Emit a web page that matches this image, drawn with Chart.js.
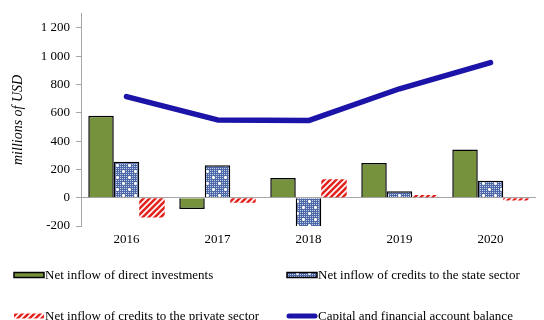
<!DOCTYPE html>
<html>
<head>
<meta charset="utf-8">
<script src="https://cdn.jsdelivr.net/npm/chart.js@4/dist/chart.umd.min.js"></script>
<style>
  html, body { margin: 0; padding: 0; background: #fff; }
  #wrap { width: 544px; height: 320px; position: relative; }
</style>
</head>
<body>
<div id="wrap"><canvas id="chart"></canvas></div>
<script>
// Balance of payments components, millions of USD
const years = ['2016', '2017', '2018', '2019', '2020'];
const directInvestments = [580, -80, 140, 245, 340];
const stateSectorCredits = [255, 230, -210, 45, 120];
const privateSectorCredits = [-140, -35, 130, 20, -20];
const accountBalance = [715, 550, 545, 770, 955];
const yTicks = [-200, 0, 200, 400, 600, 800, 1000, 1200];

const seriesNames = [
  'Net inflow of direct investments',
  'Net inflow of credits to the state sector',
  'Net inflow of credits to the private sector',
  'Capital and financial account balance'
];

const GREEN = '#76923c';
const LINE_BLUE = '#1c14a8';
const AXIS_GREY = '#a6a6a6';
const FONT = '"Liberation Serif", "Times New Roman", serif';

// Dotted blue fill with small white crosses
function makeDotPattern() {
  const c = document.createElement('canvas');
  c.width = 12; c.height = 12;
  const g = c.getContext('2d');
  g.fillStyle = '#4d68a8';
  g.fillRect(0, 0, 12, 12);
  g.fillStyle = 'rgba(255,255,255,0.7)';
  for (let x = 0; x < 12; x += 2) {
    for (let y = 0; y < 12; y += 2) g.fillRect(x, y, 1, 1);
  }
  g.fillStyle = '#ffffff';
  [[3, 3], [9, 9]].forEach(([x, y]) => {
    g.fillRect(x - 1, y, 3, 1);
    g.fillRect(x, y - 1, 1, 3);
  });
  return g.createPattern(c, 'repeat');
}

// Red diagonal hatching
function makeHatchPattern() {
  const s = 6;
  const c = document.createElement('canvas');
  c.width = s; c.height = s;
  const g = c.getContext('2d');
  g.fillStyle = '#ffffff';
  g.fillRect(0, 0, s, s);
  g.strokeStyle = '#e3231f';
  g.lineWidth = 2.6;
  g.beginPath();
  g.moveTo(-s, s); g.lineTo(s, -s);
  g.moveTo(0, 2 * s); g.lineTo(2 * s, 0);
  g.moveTo(0, s); g.lineTo(s, 0);
  g.stroke();
  return g.createPattern(c, 'repeat');
}

const dotPattern = makeDotPattern();
const hatchPattern = makeHatchPattern();

function formatThousands(v) {
  const s = String(Math.abs(v)).replace(/\B(?=(\d{3})+(?!\d))/g, ' ');
  return (v < 0 ? '-' : '') + s;
}

// Two-column legend below the axis
const gridLegend = {
  id: 'gridLegend',
  afterDraw(chart) {
    const ctx = chart.ctx;
    const items = [
      { x: 14, y: 275, kind: 'box', fill: GREEN, border: '#000' },
      { x: 287, y: 275, kind: 'box', fill: dotPattern, border: '#000' },
      { x: 14, y: 316, kind: 'box', fill: hatchPattern, border: null },
      { x: 287, y: 316, kind: 'line', color: LINE_BLUE }
    ];
    ctx.save();
    ctx.font = '13px ' + FONT;
    ctx.textBaseline = 'middle';
    ctx.textAlign = 'left';
    items.forEach((it, i) => {
      if (it.kind === 'box') {
        ctx.fillStyle = it.fill;
        ctx.fillRect(it.x, it.y - 2.5, 30, 5);
        if (it.border) {
          ctx.strokeStyle = it.border;
          ctx.lineWidth = 1.5;
          ctx.strokeRect(it.x, it.y - 2.5, 30, 5);
        }
      } else {
        ctx.strokeStyle = it.color;
        ctx.lineWidth = 5;
        ctx.lineCap = 'round';
        ctx.beginPath();
        ctx.moveTo(it.x + 2, it.y);
        ctx.lineTo(it.x + 28, it.y);
        ctx.stroke();
      }
      ctx.fillStyle = '#000';
      ctx.fillText(seriesNames[i], it.x + 31, it.y + 1);
    });
    ctx.restore();
  }
};

new Chart(document.getElementById('chart'), {
  data: {
    labels: years,
    datasets: [
      {
        type: 'line',
        label: seriesNames[3],
        data: accountBalance,
        borderColor: LINE_BLUE,
        backgroundColor: LINE_BLUE,
        borderWidth: 5.5,
        borderCapStyle: 'round',
        borderJoinStyle: 'round',
        pointRadius: 0,
        tension: 0,
        order: 0
      },
      {
        type: 'bar',
        label: seriesNames[0],
        data: directInvestments,
        backgroundColor: GREEN,
        borderColor: '#000',
        borderWidth: 1.5,
        order: 1
      },
      {
        type: 'bar',
        label: seriesNames[1],
        data: stateSectorCredits,
        backgroundColor: dotPattern,
        borderColor: '#000',
        borderWidth: 1.5,
        order: 1
      },
      {
        type: 'bar',
        label: seriesNames[2],
        data: privateSectorCredits,
        backgroundColor: hatchPattern,
        borderWidth: 0,
        order: 1
      }
    ]
  },
  options: {
    responsive: true,
    maintainAspectRatio: false,
    animation: false,
    datasets: {
      bar: { categoryPercentage: 0.84, barPercentage: 1 }
    },
    layout: { padding: { left: 0, right: 8, top: 13, bottom: 74 } },
    plugins: {
      legend: { display: false },
      tooltip: { enabled: false }
    },
    scales: {
      x: {
        grid: { display: false, drawTicks: false },
        border: { display: false },
        ticks: { color: '#000', font: { family: FONT, size: 13 }, padding: 6 },
        afterFit(scale) { scale.height = 20; }
      },
      y: {
        min: -200,
        max: 1300,
        afterBuildTicks(scale) {
          scale.ticks = yTicks.map(v => ({ value: v }));
        },
        afterFit(scale) { scale.width = 81; },
        border: { display: true, color: AXIS_GREY, width: 1 },
        grid: {
          color: ctx => (ctx.tick && ctx.tick.value === 0 ? AXIS_GREY : 'rgba(0,0,0,0)'),
          tickColor: AXIS_GREY,
          tickLength: 5,
          lineWidth: 1
        },
        ticks: {
          color: '#000',
          font: { family: FONT, size: 13 },
          padding: 6,
          callback: v => formatThousands(v)
        },
        title: {
          display: true,
          text: 'millions of USD',
          color: '#000',
          font: { family: FONT, size: 14, style: 'italic' },
          padding: { top: 10, bottom: 0 }
        }
      }
    }
  },
  plugins: [gridLegend]
});
</script>
</body>
</html>
